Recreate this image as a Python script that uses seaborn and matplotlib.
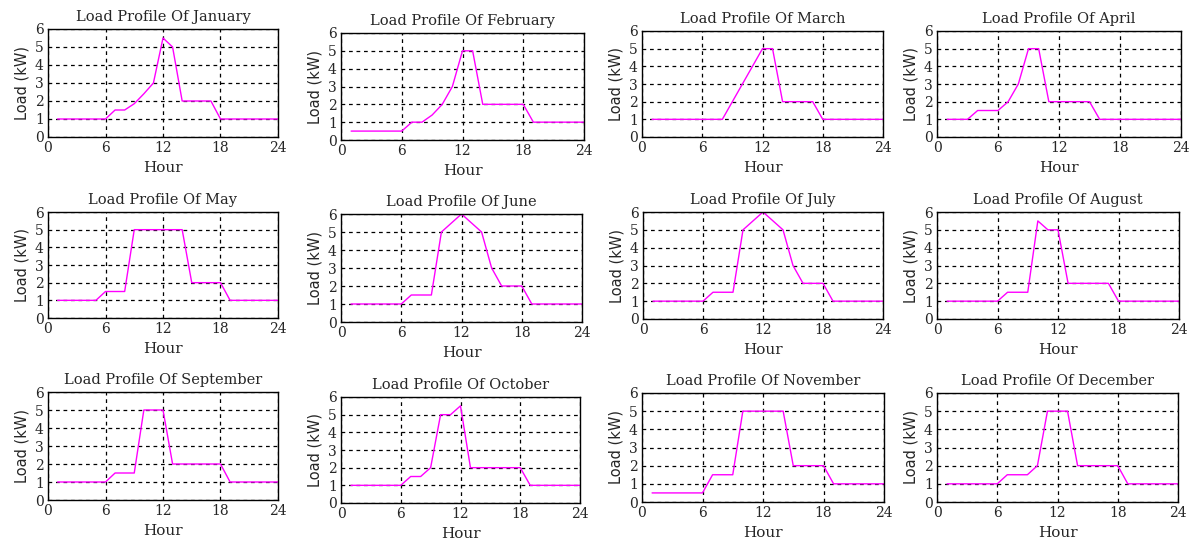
import numpy as np
import pandas as pd
import matplotlib
matplotlib.use("Agg")
import matplotlib.pyplot as plt
import seaborn as sns

# hourly load (kW) for hours 1..24
hours = list(range(1, 25))
jan = [1, 1, 1, 1, 1, 1, 1.5, 1.5, 1.85, 2.4, 3.0, 5.5, 5, 2, 2, 2, 2, 1, 1, 1, 1, 1, 1, 1]
feb = [0.5, 0.5, 0.5, 0.5, 0.5, 0.5, 1, 1, 1.4, 2, 3, 5, 5, 2, 2, 2, 2, 2, 1, 1, 1, 1, 1, 1]
mar = [1, 1, 1, 1, 1, 1, 1, 1, 2, 3, 4, 5, 5, 2, 2, 2, 2, 1, 1, 1, 1, 1, 1, 1]
apr = [1, 1, 1, 1.5, 1.5, 1.5, 2, 3, 5, 5, 2, 2, 2, 2, 2, 1, 1, 1, 1, 1, 1, 1, 1, 1]
may = [1, 1, 1, 1, 1, 1.5, 1.5, 1.5, 5, 5, 5, 5, 5, 5, 2, 2, 2, 2, 1, 1, 1, 1, 1, 1]
jun = [1, 1, 1, 1, 1, 1, 1.5, 1.5, 1.5, 5, 5.5, 6, 5.5, 5, 3, 2, 2, 2, 1, 1, 1, 1, 1, 1]
jul = [1, 1, 1, 1, 1, 1, 1.5, 1.5, 1.5, 5, 5.5, 6, 5.5, 5, 3, 2, 2, 2, 1, 1, 1, 1, 1, 1]
aug = [1, 1, 1, 1, 1, 1, 1.5, 1.5, 1.5, 5.5, 5, 5, 2, 2, 2, 2, 2, 1, 1, 1, 1, 1, 1, 1]
sep = [1, 1, 1, 1, 1, 1, 1.5, 1.5, 1.5, 5, 5, 5, 2, 2, 2, 2, 2, 2, 1, 1, 1, 1, 1, 1]
oct_ = [1, 1, 1, 1, 1, 1, 1.5, 1.5, 2, 5, 5, 5.5, 2, 2, 2, 2, 2, 2, 1, 1, 1, 1, 1, 1]
nov = [0.5, 0.5, 0.5, 0.5, 0.5, 0.5, 1.5, 1.5, 1.5, 5, 5, 5, 5, 5, 2, 2, 2, 2, 1, 1, 1, 1, 1, 1]
dec = [1, 1, 1, 1, 1, 1, 1.5, 1.5, 1.5, 2, 5, 5, 5, 2, 2, 2, 2, 2, 1, 1, 1, 1, 1, 1]

months = ["January", "February", "March", "April", "May", "June",
          "July", "August", "September", "October", "November", "December"]
loads = [jan, feb, mar, apr, may, jun, jul, aug, sep, oct_, nov, dec]

sns.set_style("white")
plt.rcParams["font.family"] = ["DejaVu Serif"]

W, H = 1192, 546
fig = plt.figure(figsize=(W / 100, H / 100), dpi=100)

# axes boxes in pixels: left, top, right, bottom (the panels are not perfectly aligned)
boxes = [
    (48, 29, 278, 137), (341, 33, 584, 140), (642, 31, 883, 137), (937, 31, 1181, 137),
    (48, 212, 278, 318), (341, 214, 582, 322), (643, 212, 883, 319), (937, 212, 1179, 319),
    (48, 392, 278, 500), (341, 397, 580, 503), (642, 393, 884, 502), (937, 393, 1178, 502),
]

for name, vals, (l, t, r, b) in zip(months, loads, boxes):
    ax = fig.add_axes([l / W, 1 - b / H, (r - l) / W, (b - t) / H])
    df = pd.DataFrame({"Hour": hours, "Load": vals})
    sns.lineplot(data=df, x="Hour", y="Load", ax=ax, color="#ff00ff", linewidth=1.0)
    ax.set_xlim(0, 24)
    ax.set_ylim(0, 6)
    ax.set_xticks([0, 6, 12, 18, 24])
    ax.set_yticks(range(7))
    ax.grid(True, color="black", linestyle=(0, (3, 3)), linewidth=0.9)
    ax.set_axisbelow(True)
    for sp in ax.spines.values():
        sp.set_color("black")
        sp.set_linewidth(1.0)
    ax.tick_params(length=0, labelsize=10, pad=3)
    ax.set_title(f"Load Profile Of {name}", fontsize=10.5, pad=6)
    ax.set_xlabel("Hour", fontsize=11, labelpad=4)
    ax.set_ylabel("Load (kW)", fontsize=10.5, family="DejaVu Sans", labelpad=4)

fig.savefig("out.png", dpi=100)
